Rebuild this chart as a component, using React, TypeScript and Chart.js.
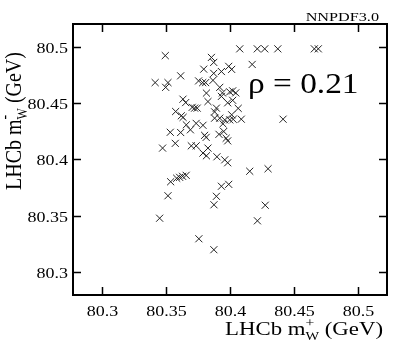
import React, { useEffect, useRef } from "react";
import { Chart, registerables } from "chart.js";

Chart.register(...registerables);

// LHCb m_W^+ (x) vs m_W^- (y) replicas
const mwPlus = [
  80.4076, 80.4213, 80.4271, 80.4373, 80.4658, 80.4689, 80.3495, 80.3855, 80.3873, 80.399,
  80.4013, 80.4173, 80.3795, 80.3933, 80.3873, 80.3615, 80.3416, 80.3516, 80.3498, 80.3755,
  80.3787, 80.381, 80.3867, 80.392, 80.3941, 80.3998, 80.4021, 80.3816, 80.3933, 80.4021,
  80.3982, 80.3633, 80.3654, 80.3828, 80.3894, 80.3705, 80.3724, 80.3744, 80.4064, 80.4045,
  80.3576, 80.362, 80.3634, 80.388, 80.388, 80.392, 80.3959, 80.3998, 80.4013, 80.4025,
  80.4088, 80.4414, 80.3659, 80.3691, 80.3736, 80.3789, 80.3945, 80.3534, 80.3615, 80.3802,
  80.3814, 80.3914, 80.3951, 80.397, 80.3982, 80.3573, 80.3474, 80.3698, 80.3736, 80.3828,
  80.3789, 80.3816, 80.3898, 80.3959, 80.3982, 80.4154, 80.4297, 80.3607, 80.363, 80.3658,
  80.3584, 80.3537, 80.3933, 80.399, 80.3516, 80.3894, 80.3875, 80.4275, 80.4214, 80.3451,
  80.3757, 80.3874,
];
const mwMinus = [
  80.498, 80.498, 80.498, 80.498, 80.498, 80.498, 80.492, 80.4904, 80.486, 80.4825,
  80.4798, 80.4842, 80.48, 80.4779, 80.4763, 80.4741, 80.4681, 80.4681, 80.4639, 80.4696,
  80.4681, 80.4681, 80.4701, 80.4639, 80.459, 80.4599, 80.4608, 80.4588, 80.4559, 80.4524,
  80.4502, 80.4534, 80.4504, 80.4513, 80.4455, 80.4462, 80.4455, 80.4455, 80.4453, 80.459,
  80.4425, 80.4387, 80.4373, 80.4422, 80.4366, 80.4366, 80.4351, 80.4351, 80.4396, 80.4356,
  80.4357, 80.4357, 80.4307, 80.4263, 80.432, 80.4303, 80.4316, 80.4241, 80.4239, 80.4214,
  80.4196, 80.4223, 80.4248, 80.4188, 80.4165, 80.4143, 80.4101, 80.4121, 80.4121, 80.4101,
  80.4057, 80.4033, 80.4024, 80.3997, 80.3971, 80.3896, 80.3918, 80.3842, 80.3851, 80.386,
  80.3834, 80.3803, 80.3763, 80.378, 80.3679, 80.3674, 80.3599, 80.3595, 80.3457, 80.348,
  80.3298, 80.3201,
];

const xTickValues = [80.3, 80.35, 80.4, 80.45, 80.5];
const xTickLabels = ["80.3", "80.35", "80.4", "80.45", "80.5"];
const yTickValues = [80.3, 80.35, 80.4, 80.45, 80.5];
const yTickLabels = ["80.3", "80.35", "80.4", "80.45", "80.5"];

const correlationLabel = "\u03c1 = 0.21";
const cornerLabel = "NNPDF3.0";

const SERIF = '"Liberation Serif", "Times New Roman", Times, serif';
const SX = 1.2; // horizontal stretch of glyphs seen in the reference

type Seg = { t: string; f: number } | { stack: { t: string; f: number; dy: number }[] };

function segWidth(ctx: CanvasRenderingContext2D, s: Seg): number {
  if ("stack" in s) {
    let w = 0;
    for (const p of s.stack) {
      ctx.font = `${p.f}px ${SERIF}`;
      w = Math.max(w, ctx.measureText(p.t).width);
    }
    return w;
  }
  ctx.font = `${s.f}px ${SERIF}`;
  return ctx.measureText(s.t).width;
}

function drawSegs(ctx: CanvasRenderingContext2D, segs: Seg[], x0: number) {
  let x = x0;
  ctx.textAlign = "left";
  ctx.textBaseline = "alphabetic";
  for (const s of segs) {
    const w = segWidth(ctx, s);
    if ("stack" in s) {
      for (const p of s.stack) {
        ctx.font = `${p.f}px ${SERIF}`;
        ctx.fillText(p.t, x, p.dy);
      }
    } else {
      ctx.font = `${s.f}px ${SERIF}`;
      ctx.fillText(s.t, x, 0);
    }
    x += w;
  }
  return x - x0;
}

function totalWidth(ctx: CanvasRenderingContext2D, segs: Seg[]) {
  return segs.reduce((a, s) => a + segWidth(ctx, s), 0);
}

function drawScaled(
  ctx: CanvasRenderingContext2D,
  text: string,
  x: number,
  y: number,
  size: number,
  sx: number,
  align: CanvasTextAlign
) {
  ctx.save();
  ctx.translate(x, y);
  ctx.scale(sx, 1);
  ctx.font = `${size}px ${SERIF}`;
  ctx.textAlign = align;
  ctx.textBaseline = "alphabetic";
  ctx.fillText(text, 0, 0);
  ctx.restore();
}

const framePlugin = {
  id: "framePlugin",
  afterDraw(chart: any) {
    const { ctx, chartArea, scales } = chart;
    const { left, right, top, bottom } = chartArea;
    const xs = scales.x;
    const ys = scales.y;
    ctx.save();
    ctx.fillStyle = "#000";
    ctx.strokeStyle = "#000";
    ctx.lineWidth = 2;
    ctx.strokeRect(left, top, right - left, bottom - top);

    const tl = 8;
    ctx.lineWidth = 1.5;
    xTickValues.forEach((v, i) => {
      const px = Math.round(xs.getPixelForValue(v)) + 0.5;
      ctx.beginPath();
      ctx.moveTo(px, bottom);
      ctx.lineTo(px, bottom - tl);
      ctx.moveTo(px, top);
      ctx.lineTo(px, top + tl);
      ctx.stroke();
      drawScaled(ctx, xTickLabels[i], px, bottom + 21, 15, SX, "center");
    });
    yTickValues.forEach((v, i) => {
      const py = Math.round(ys.getPixelForValue(v)) + 0.5;
      ctx.beginPath();
      ctx.moveTo(left, py);
      ctx.lineTo(left + tl, py);
      ctx.moveTo(right, py);
      ctx.lineTo(right - tl, py);
      ctx.stroke();
      drawScaled(ctx, yTickLabels[i], left - 5, py + 5, 15, SX, "right");
    });

    // x-axis title
    const xSegs: Seg[] = [
      { t: "LHCb m", f: 19 },
      { stack: [{ t: "+", f: 13, dy: -8 }, { t: "W", f: 12, dy: 5 }] },
      { t: " (GeV)", f: 19 },
    ];
    ctx.save();
    ctx.translate(383, 335);
    ctx.scale(SX, 1);
    const wx = totalWidth(ctx, xSegs);
    drawSegs(ctx, xSegs, -wx);
    ctx.restore();

    // y-axis title
    const ySegs: Seg[] = [
      { t: "LHCb m", f: 20 },
      { stack: [{ t: "-", f: 14, dy: -9 }, { t: "W", f: 12, dy: 5 }] },
      { t: " (GeV)", f: 20 },
    ];
    ctx.save();
    ctx.translate(21, 190);
    ctx.rotate(-Math.PI / 2);
    ctx.scale(1, SX);
    drawSegs(ctx, ySegs, 0);
    ctx.restore();

    // correlation annotation
    drawScaled(ctx, correlationLabel, 248, 93, 29, 1.15, "left");
    // corner label
    drawScaled(ctx, cornerLabel, 379, 21, 13.5, SX, "right");
    ctx.restore();
  },
};

export default function App() {
  const canvasRef = useRef<HTMLCanvasElement | null>(null);

  useEffect(() => {
    const canvas = canvasRef.current;
    if (!canvas) return;
    const chart = new Chart(canvas, {
      type: "scatter",
      data: {
        datasets: [
          {
            data: mwPlus.map((x, i) => ({ x, y: mwMinus[i] })),
            pointStyle: "crossRot",
            pointRadius: 5,
            pointBorderWidth: 1,
            borderColor: "#222",
            backgroundColor: "#222",
          },
        ],
      },
      options: {
        animation: false,
        responsive: false,
        devicePixelRatio: 1,
        layout: { padding: { left: 73, right: 20, top: 24, bottom: 57 } },
        plugins: { legend: { display: false }, tooltip: { enabled: false } },
        scales: {
          x: { type: "linear", min: 80.2775, max: 80.5225, display: false },
          y: { type: "linear", min: 80.28, max: 80.52, display: false },
        },
      },
      plugins: [framePlugin],
    });
    return () => chart.destroy();
  }, []);

  return (
    <div style={{ position: "fixed", left: 0, top: 0, width: 407, height: 352, background: "#fff" }}>
      <canvas ref={canvasRef} width={407} height={352} />
    </div>
  );
}
